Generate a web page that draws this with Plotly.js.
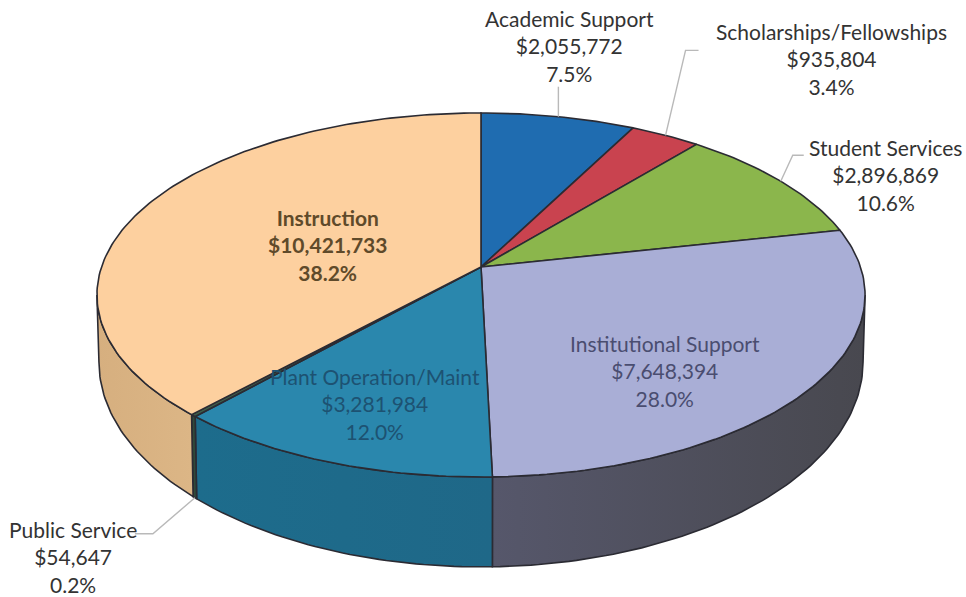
<!DOCTYPE html>
<html><head><meta charset="utf-8">
<script src="https://cdn.plot.ly/plotly-3.0.1.min.js"></script>
<style>html,body{margin:0;padding:0;background:#fff}#chart{width:966px;height:597px}</style>
</head><body><div id="chart"></div>
<script>
// Data, clockwise from twelve o'clock
const categories = ["Academic Support","Scholarships/Fellowships","Student Services","Institutional Support","Plant Operation/Maint","Public Service","Instruction"];
const amounts = [2055772,935804,2896869,7648394,3281984,54647,10421733];
// Styles
const topColors = ["#1f6cb0","#c9434f","#8bb64c","#a9aed6","#2a87ad","#3f5f4a","#fdd09f"];
const sideLeft = ["#174f80","#8f2f38","#64843a","#56576b","#1d6c8c","#2f4a3a","#d6af7f"];
const sideRight = ["#174f80","#8f2f38","#64843a","#48484f","#1f6888","#2f4a3a","#dcb686"];
const textColors = ["#333333","#333333","#333333","#4a4d70","#1d5272","#333333","#5f4a2a"];
const labelCenters = [[569,46],[831,59],[885,175],[665,371],[375,404],[73,557],[327,245]];
const labelBold = [false,false,false,false,false,false,true];
// Leader elbows, relative to the slice's rim point
const leaderElbows = {0:[[0,-30]],1:[[20,-85],[33,-85]],2:[[12,-26],[23,-26]],5:[[-42,36],[-60,36]]};

// Perspective projection of the disc
const cx = 481, persp = 0.1538;
const topFace = {y0:267, a:177.7, b:379.5};
const baseFace = {y0:330.5, a:200, b:377.5};
function project(face, deg){
  const t = deg*Math.PI/180, u = Math.sin(t), v = Math.cos(t), w = 1+persp*v;
  return [cx + face.b*u/w, face.y0 - face.a*v/w];
}
function arc(face, d0, d1){
  const n = Math.max(2, Math.ceil(Math.abs(d1-d0)));
  const out = [];
  for(let i=0;i<=n;i++) out.push(project(face, d0+(d1-d0)*i/n));
  return out;
}
const total = amounts.reduce((a,b)=>a+b,0);
const edges = [0];
amounts.forEach(v=>edges.push(edges[edges.length-1]+v/total*360));
const visA = 90+Math.asin(persp)*180/Math.PI, visB = 360-visA;

const outline = {color:"#2b2b33", width:1.6};
const traces = [];
function poly(pts, fill, line, gradient){
  const tr = {type:"scatter", mode:"lines", x:pts.map(p=>p[0]), y:pts.map(p=>p[1]),
    fill:"toself", fillcolor:fill, line:line, hoverinfo:"skip", showlegend:false};
  if(gradient) tr.fillgradient = gradient;
  traces.push(tr);
}
// Outer wall
categories.forEach((c,i)=>{
  const d0 = Math.max(edges[i],visA), d1 = Math.min(edges[i+1],visB);
  if(d1<=d0) return;
  const pts = arc(topFace,d0,d1).concat(arc(baseFace,d1,d0));
  pts.push(pts[0]);
  poly(pts, sideLeft[i], outline, {type:"horizontal", colorscale:[[0,sideLeft[i]],[1,sideRight[i]]]});
});
// Top face
categories.forEach((c,i)=>{
  const pts = [[cx,topFace.y0]].concat(arc(topFace,edges[i],edges[i+1]));
  pts.push(pts[0]);
  poly(pts, topColors[i], outline);
});
// Leader lines
Object.keys(leaderElbows).forEach(k=>{
  const i = +k, mid = (edges[i]+edges[i+1])/2;
  const rim = project(i===5?baseFace:topFace, mid);
  const pts = [rim].concat(leaderElbows[k].map(o=>[rim[0]+o[0],rim[1]+o[1]]));
  traces.push({type:"scatter",mode:"lines",x:pts.map(p=>p[0]),y:pts.map(p=>p[1]),
    line:{color:"#b9b9b9",width:1.4},hoverinfo:"skip",showlegend:false});
});
const annotations = categories.map((c,i)=>{
  const wrap = s => labelBold[i] ? "<b>"+s+"</b>" : s;
  return {
    x:labelCenters[i][0], y:labelCenters[i][1], xref:"x", yref:"y", showarrow:false, align:"center",
    xanchor:"center", yanchor:"middle",
    text:wrap(c)+"<br>"+wrap("$"+amounts[i].toLocaleString("en-US"))+"<br>"+wrap((amounts[i]/total*100).toFixed(1)+"%"),
    font:{family:"Lato, 'Open Sans', sans-serif", size:21, color:textColors[i]}
  };
});
const layout = {
  width:966, height:597, margin:{l:0,r:0,t:0,b:0}, paper_bgcolor:"#fff", plot_bgcolor:"#fff",
  xaxis:{range:[0,966],visible:false,fixedrange:true},
  yaxis:{range:[597,0],visible:false,fixedrange:true},
  showlegend:false, annotations:annotations, hovermode:false
};
Plotly.newPlot("chart",traces,layout,{displayModeBar:false,staticPlot:true});
</script></body></html>
